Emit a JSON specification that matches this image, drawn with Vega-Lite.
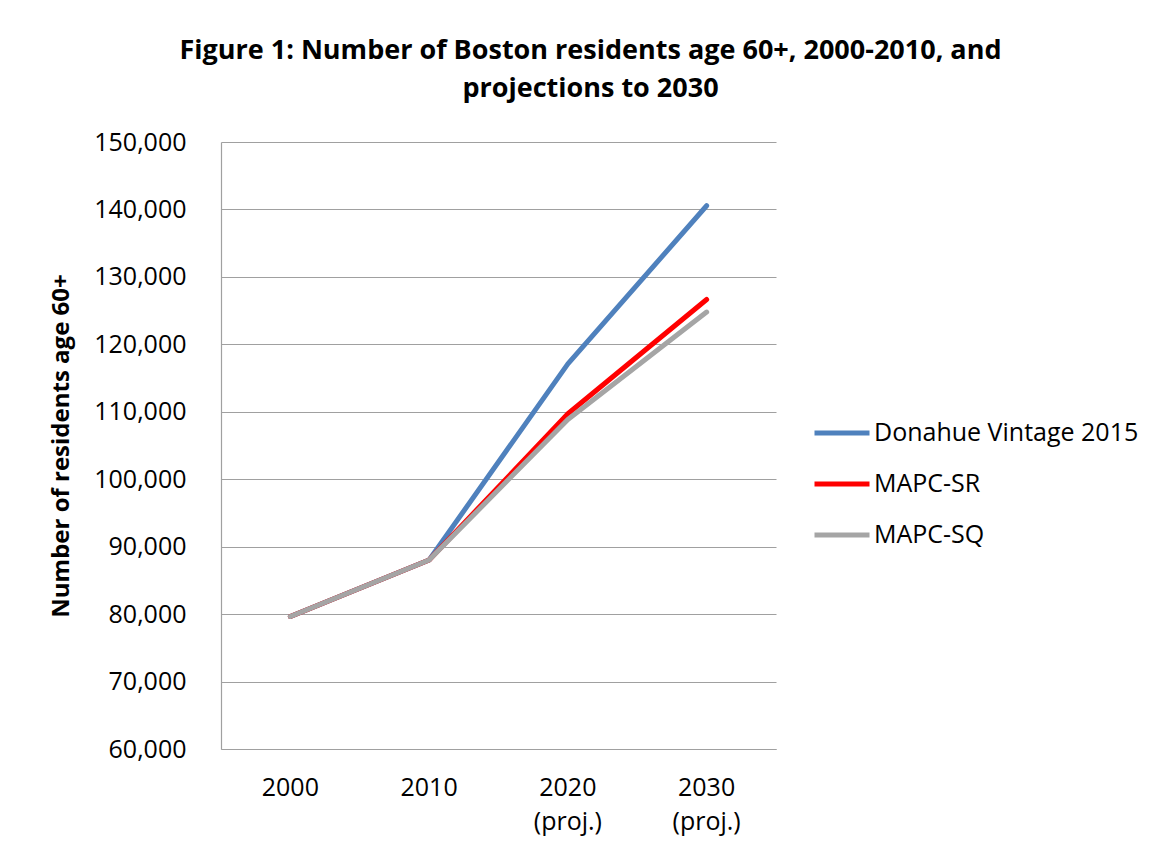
{
  "$schema": "https://vega.github.io/schema/vega-lite/v6.json",
  "width": 555,
  "height": 607,
  "autosize": {"type": "none"},
  "padding": {"left": 221, "top": 142, "right": 391, "bottom": 101},
  "background": "white",
  "title": {
    "text": ["Figure 1: Number of Boston residents age 60+, 2000-2010, and", "projections to 2030"],
    "font": "Open Sans",
    "fontWeight": "bold",
    "fontSize": 27,
    "lineHeight": 38,
    "color": "black",
    "anchor": "middle",
    "dx": 92,
    "offset": 27
  },
  "data": {
    "values": [
      {"period": "2000", "series": "Donahue Vintage 2015", "value": 79650},
      {"period": "2010", "series": "Donahue Vintage 2015", "value": 88030},
      {"period": "2020 (proj.)", "series": "Donahue Vintage 2015", "value": 117100},
      {"period": "2030 (proj.)", "series": "Donahue Vintage 2015", "value": 140550},
      {"period": "2000", "series": "MAPC-SR", "value": 79650},
      {"period": "2010", "series": "MAPC-SR", "value": 88030},
      {"period": "2020 (proj.)", "series": "MAPC-SR", "value": 109700},
      {"period": "2030 (proj.)", "series": "MAPC-SR", "value": 126650},
      {"period": "2000", "series": "MAPC-SQ", "value": 79650},
      {"period": "2010", "series": "MAPC-SQ", "value": 88030},
      {"period": "2020 (proj.)", "series": "MAPC-SQ", "value": 108870},
      {"period": "2030 (proj.)", "series": "MAPC-SQ", "value": 124780}
    ]
  },
  "encoding": {
    "x": {
      "field": "period",
      "type": "ordinal",
      "sort": ["2000", "2010", "2020 (proj.)", "2030 (proj.)"],
      "scale": {"type": "band", "paddingInner": 0, "paddingOuter": 0},
      "axis": {
        "title": null,
        "labelAngle": 0,
        "labelExpr": "split(datum.label, ' ')",
        "labelFont": "Open Sans",
        "labelFontSize": 25,
        "labelColor": "black",
        "labelLineHeight": 34,
        "labelPadding": 26,
        "labelBaseline": "top",
        "ticks": false,
        "grid": false,
        "domainColor": "#a0a0a0",
        "domainWidth": 1.2
      }
    },
    "y": {
      "field": "value",
      "type": "quantitative",
      "scale": {"domain": [60000, 150000], "nice": false, "zero": false},
      "axis": {
        "title": "Number of residents age 60+",
        "titleFont": "Open Sans",
        "titleFontSize": 24,
        "titleFontWeight": "bold",
        "titleColor": "black",
        "titlePadding": 20,
        "values": [60000, 70000, 80000, 90000, 100000, 110000, 120000, 130000, 140000, 150000],
        "format": ",d",
        "labelFont": "Open Sans",
        "labelFontSize": 25,
        "labelColor": "black",
        "labelPadding": 35,
        "ticks": false,
        "grid": true,
        "gridColor": "#a0a0a0",
        "gridWidth": 1.2,
        "domainColor": "#a0a0a0",
        "domainWidth": 1.2
      }
    },
    "color": {
      "field": "series",
      "type": "nominal",
      "scale": {
        "domain": ["Donahue Vintage 2015", "MAPC-SR", "MAPC-SQ"],
        "range": ["#4f81bd", "#ff0000", "#a5a5a5"]
      },
      "legend": {
        "title": null,
        "orient": "none",
        "legendX": 591,
        "legendY": 261,
        "symbolType": "stroke",
        "symbolSize": 3025,
        "symbolStrokeWidth": 5,
        "labelFont": "Open Sans",
        "labelFontSize": 25,
        "labelColor": "black",
        "labelOffset": 2,
        "labelLimit": 400,
        "rowPadding": 8
      }
    }
  },
  "layer": [
    {
      "transform": [{"filter": "datum.series == 'Donahue Vintage 2015'"}],
      "mark": {"type": "line", "strokeWidth": 5, "strokeCap": "round", "strokeJoin": "round"}
    },
    {
      "transform": [{"filter": "datum.series == 'MAPC-SR'"}],
      "mark": {"type": "line", "strokeWidth": 5, "strokeCap": "round", "strokeJoin": "round"}
    },
    {
      "transform": [{"filter": "datum.series == 'MAPC-SQ'"}],
      "mark": {"type": "line", "strokeWidth": 5, "strokeCap": "round", "strokeJoin": "round"}
    }
  ],
  "config": {
    "view": {"stroke": null}
  }
}
